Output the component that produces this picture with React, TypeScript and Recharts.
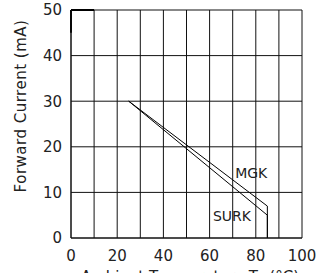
import React from 'react';
import { LineChart, Line, XAxis, YAxis, CartesianGrid, ReferenceLine, ReferenceDot } from 'recharts';

const xTicks = [0, 10, 20, 30, 40, 50, 60, 70, 80, 90, 100];
const xLabelTicks = [0, 20, 40, 60, 80, 100];
const yTicks = [0, 10, 20, 30, 40, 50];

const mgkData = [
  { x: 25, y: 30 },
  { x: 85, y: 7 },
  { x: 85, y: 0 },
];
const surkData = [
  { x: 25, y: 30 },
  { x: 85, y: 5 },
  { x: 85, y: 0 },
];

const FONT = '"DejaVu Sans", sans-serif';
const TXT = '#222';

const YTitle = (props: any) => {
  const vb = props.viewBox || { x: 0, y: 0 };
  const cx = vb.x + 21;
  const cy = vb.y + 96;
  return (
    <text x={cx} y={cy} transform={`rotate(-90, ${cx}, ${cy})`} textAnchor="middle" dominantBaseline="central"
      fontFamily={FONT} fontSize={15} fill={TXT} letterSpacing={0.5}>
      Forward Current (mA)
    </text>
  );
};

const XTitle = (props: any) => {
  const vb = props.viewBox || { x: 0, y: 0, width: 0, height: 0 };
  return (
    <text x={190} y={vb.y + 44} textAnchor="middle" fontFamily={FONT} fontSize={15} fill={TXT}>
      Ambient Temperature Ta (°C)
    </text>
  );
};

export default function App() {
  return (
    <div style={{ position: 'absolute', left: 0, top: 0, background: '#fff' }}>
      <LineChart width={329} height={273} margin={{ top: 10, right: 27, left: 0, bottom: 0 }}>
        <CartesianGrid stroke="#111" strokeWidth={1} />
        <XAxis
          type="number"
          dataKey="x"
          domain={[0, 100]}
          ticks={xTicks}
          interval={0}
          tickFormatter={(v: number) => (xLabelTicks.includes(v) ? String(v) : '')}
          tickLine={false}
          axisLine={{ stroke: '#111' }}
          tick={{ fontFamily: FONT, fontSize: 15, fill: TXT }}
          tickMargin={6}
          height={35}
          label={<XTitle />}
        />
        <YAxis
          type="number"
          dataKey="y"
          domain={[0, 50]}
          ticks={yTicks}
          interval={0}
          tickLine={false}
          tickSize={0}
          axisLine={{ stroke: '#111' }}
          tick={{ fontFamily: FONT, fontSize: 15, fill: TXT }}
          tickMargin={9}
          width={71}
          label={<YTitle />}
        />
        <ReferenceLine segment={[{ x: 0, y: 50 }, { x: 10, y: 50 }]} stroke="#000" strokeWidth={2} />
        <ReferenceLine segment={[{ x: 0, y: 50 }, { x: 0, y: 45 }]} stroke="#000" strokeWidth={2} />
        <Line data={mgkData} dataKey="y" type="linear" stroke="#000" strokeWidth={1} dot={false} isAnimationActive={false} />
        <Line data={surkData} dataKey="y" type="linear" stroke="#000" strokeWidth={1} dot={false} isAnimationActive={false} />
        <ReferenceDot x={78} y={14.3} r={0} fill="none" stroke="none"
          label={{ value: 'MGK', position: 'center', fontFamily: FONT, fontSize: 14, fill: TXT }} />
        <ReferenceDot x={69.7} y={4.8} r={0} fill="none" stroke="none"
          label={{ value: 'SURK', position: 'center', fontFamily: FONT, fontSize: 14, fill: TXT }} />
      </LineChart>
    </div>
  );
}
